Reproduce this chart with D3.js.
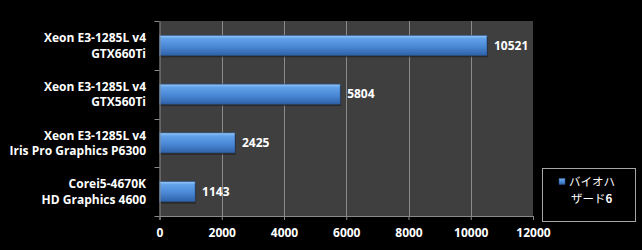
<!DOCTYPE html>
<html><head><meta charset="utf-8">
<script src="https://cdn.jsdelivr.net/npm/d3@7"></script>
<style>
html,body{margin:0;padding:0;background:#000;}
svg{display:block;}
text{font-family:"Open Sans","DejaVu Sans",sans-serif;font-weight:bold;fill:#fff;}
</style></head>
<body>
<script>
const categories = [
  ["Xeon E3-1285L v4", "GTX660Ti"],
  ["Xeon E3-1285L v4", "GTX560Ti"],
  ["Xeon E3-1285L v4", "Iris Pro Graphics P6300"],
  ["Corei5-4670K", "HD Graphics 4600"]
];
const values = [10521, 5804, 2425, 1143];
const xTicks = [0, 2000, 4000, 6000, 8000, 10000, 12000];
const legendLines = ["バイオハ", "ザード6"];

(function () {
const W = 642, H = 250;
const svg = d3.select("body").append("svg").attr("width", W).attr("height", H);
svg.append("rect").attr("width", W).attr("height", H).attr("fill", "#000");

const pL = 159.5, pR = 533, pT = 21, pB = 216;
const x = d3.scaleLinear().domain([0, 12000]).range([pL, pR]);
const y = d3.scaleBand().domain(d3.range(categories.length)).range([pT, pB]).paddingInner(0.59).paddingOuter(0.295);

const defs = svg.append("defs");
const grad = defs.append("linearGradient").attr("id", "barg").attr("x1", 0).attr("y1", 0).attr("x2", 0).attr("y2", 1);
grad.append("stop").attr("offset", "0%").attr("stop-color", "#9ccaf8");
grad.append("stop").attr("offset", "15%").attr("stop-color", "#62a2ea");
grad.append("stop").attr("offset", "55%").attr("stop-color", "#4b88d6");
grad.append("stop").attr("offset", "100%").attr("stop-color", "#2f62a8");

svg.append("rect").attr("x", pL).attr("y", pT).attr("width", pR - pL).attr("height", pB - pT).attr("fill", "#3f3f3f");

svg.append("g").selectAll("line").data(xTicks.slice(1, -1)).join("line")
  .attr("x1", d => Math.round(x(d)) + 0.5).attr("x2", d => Math.round(x(d)) + 0.5)
  .attr("y1", pT).attr("y2", pB).attr("stroke", "#8a8a8a").attr("stroke-width", 1);

const bars = svg.append("g");
bars.selectAll("rect.sh").data(values).join("rect").attr("class", "sh")
  .attr("x", x(0) + 1).attr("y", (d, i) => y(i) + 2)
  .attr("width", d => x(d) - x(0)).attr("height", y.bandwidth())
  .attr("fill", "#1c1c1c").attr("opacity", 0.6);
bars.selectAll("rect.b").data(values).join("rect").attr("class", "b")
  .attr("x", x(0)).attr("y", (d, i) => y(i))
  .attr("width", d => x(d) - x(0)).attr("height", y.bandwidth())
  .attr("fill", "url(#barg)").attr("stroke", "#2a5590").attr("stroke-width", 0.6);

svg.append("g").selectAll("text").data(values).join("text")
  .attr("x", d => x(d) + 7).attr("y", (d, i) => y(i) + y.bandwidth() / 2)
  .attr("dy", "0.35em").attr("font-size", 12).text(d => d);

const xAxis = d3.axisBottom(x).tickValues(xTicks).tickSize(4).tickPadding(8).tickFormat(d3.format("d"));
const gx = svg.append("g").attr("transform", `translate(0,${pB})`).call(xAxis);
gx.select(".domain").attr("stroke", "#8a8a8a");
gx.selectAll(".tick line").attr("stroke", "#8a8a8a");
gx.selectAll(".tick text").attr("font-size", 12).attr("fill", "#fff")
  .style("font-family", '"Open Sans","DejaVu Sans",sans-serif').style("font-weight", "bold");

const yb = d3.scaleBand().domain(d3.range(categories.length)).range([pT, pB]);
const yAxis = d3.axisLeft(yb).tickSize(0).tickFormat("");
const gy = svg.append("g").attr("transform", `translate(${pL},0)`).call(yAxis);
gy.select(".domain").attr("stroke", "#8a8a8a");
svg.append("g").selectAll("line").data(d3.range(categories.length + 1)).join("line")
  .attr("x1", pL - 5).attr("x2", pL)
  .attr("y1", i => Math.round(pT + i * yb.step()) + 0.5).attr("y2", i => Math.round(pT + i * yb.step()) + 0.5)
  .attr("stroke", "#8a8a8a");

const cl = svg.append("g").selectAll("text").data(categories).join("text")
  .attr("text-anchor", "end").attr("font-size", 12)
  .attr("y", (d, i) => yb(i) + yb.bandwidth() / 2);
cl.selectAll("tspan").data(d => d).join("tspan")
  .attr("x", 146).attr("dy", (d, j) => j === 0 ? "-0.28em" : "1.3em").text(d => d);

const lg = svg.append("g");
lg.append("rect").attr("x", 542.5).attr("y", 168.5).attr("width", 93).attr("height", 53)
  .attr("fill", "#000").attr("stroke", "#a6a6a6").attr("stroke-width", 1);
lg.append("rect").attr("x", 559).attr("y", 178.5).attr("width", 6).attr("height", 6)
  .attr("fill", "url(#barg)").attr("stroke", "#2a5590").attr("stroke-width", 0.5);
const lt = lg.append("text").attr("y", 186).attr("font-size", 11.5)
  .style("font-family", '"Noto Sans CJK JP","Open Sans",sans-serif').style("font-weight", "normal");
lt.append("tspan").attr("x", 569).text(legendLines[0]);
lt.append("tspan").attr("x", 571).attr("dy", 17).text(legendLines[1].slice(0, -1));
lt.append("tspan").style("font-weight", "bold").text(legendLines[1].slice(-1));
})();
</script>
</body></html>
